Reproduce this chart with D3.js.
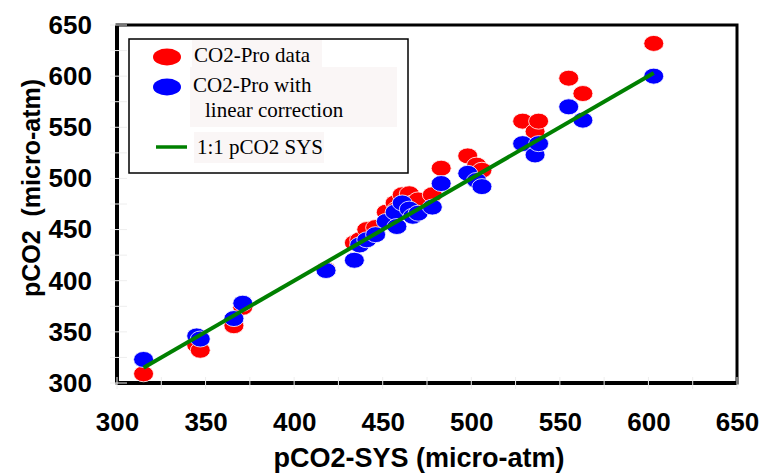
<!DOCTYPE html>
<html>
<head>
<meta charset="utf-8">
<script src="https://cdn.jsdelivr.net/npm/d3@7"></script>
<style>
  body { margin: 0; background: #fff; }
  svg { display: block; }
</style>
</head>
<body>
<div class="chart-container"></div>
<script>
const w = 759,
      h = 474;

// pCO2-SYS (x) with CO2-Pro raw (red) and corrected (blue)
const sysValues = [315, 345, 347, 366, 371, 418, 434, 437, 441, 446, 452, 457, 458, 461, 465, 467, 470, 478, 483, 498, 503, 506, 529, 536, 538, 555, 563, 603];
const rawValues = [309, 337, 332, 356, 374, 411, 437, 440, 450, 452, 467, 476, 470, 484, 485, 476, 479, 484, 510, 522, 513, 508, 556, 546, 556, 598, 583, 632];
const corrValues = [323, 346, 343, 363, 378, 410, 420, 435, 440, 445, 458, 467, 453, 476, 470, 463, 466, 472, 495, 505, 498, 492, 534, 523, 534, 570, 557, 600];
const lineEnds = [315, 603];
const xTicks = [300, 350, 400, 450, 500, 550, 600, 650];
const yTicks = [300, 350, 400, 450, 500, 550, 600, 650];
const minorTicks = d3.range(300, 651, 25);

const svg = d3.select('.chart-container')
  .append('svg')
  .attr('width', w)
  .attr('height', h);

const xScale = d3.scaleLinear().domain([300, 650]).range([117, 737]);
const yScale = d3.scaleLinear().domain([300, 650]).range([383, 25]);

// frame
svg.append('rect')
  .attr('x', xScale(300))
  .attr('y', yScale(650))
  .attr('width', xScale(650) - xScale(300))
  .attr('height', yScale(300) - yScale(650))
  .attr('fill', 'none')
  .attr('stroke', '#000')
  .attr('stroke-width', 3);

svg.append('line')
  .attr('x1', xScale(300)).attr('x2', xScale(300))
  .attr('y1', yScale(650)).attr('y2', yScale(300))
  .attr('stroke', '#000').attr('stroke-width', 4);

svg.append('line')
  .attr('x1', xScale(300)).attr('x2', xScale(650))
  .attr('y1', yScale(300)).attr('y2', yScale(300))
  .attr('stroke', '#000').attr('stroke-width', 4);

// minor tick marks (light on the black axis lines)
svg.selectAll('.ytick-mark')
  .data(minorTicks)
  .enter()
  .append('line')
  .attr('class', 'ytick-mark')
  .attr('x1', xScale(300) - 7).attr('x2', xScale(300) + 10)
  .attr('y1', d => yScale(d)).attr('y2', d => yScale(d))
  .attr('stroke', '#eee').attr('stroke-width', 1);

svg.selectAll('.xtick-mark')
  .data(minorTicks)
  .enter()
  .append('line')
  .attr('class', 'xtick-mark')
  .attr('x1', d => xScale(d)).attr('x2', d => xScale(d))
  .attr('y1', yScale(300) - 6).attr('y2', yScale(300) + 6)
  .attr('stroke', '#eee').attr('stroke-width', 1);

// axes labels via d3 axes
const xAxis = d3.axisBottom(xScale).tickValues(xTicks).tickSize(0).tickPadding(30);
const yAxis = d3.axisLeft(yScale).tickValues(yTicks).tickSize(0).tickPadding(25);

const gx = svg.append('g')
  .attr('transform', `translate(0, ${yScale(300)})`)
  .call(xAxis);
const gy = svg.append('g')
  .attr('transform', `translate(${xScale(300)}, 0)`)
  .call(yAxis);

[gx, gy].forEach(g => {
  g.select('.domain').remove();
  g.selectAll('text')
    .style('font-family', '"Liberation Sans", Arial, sans-serif')
    .style('font-weight', 'bold')
    .style('font-size', '26px')
    .attr('fill', '#000');
});

svg.append('text')
  .attr('x', 419)
  .attr('y', 467)
  .attr('text-anchor', 'middle')
  .style('font-family', '"Liberation Sans", Arial, sans-serif')
  .style('font-weight', 'bold')
  .style('font-size', '27px')
  .text('pCO2-SYS (micro-atm)');

svg.append('text')
  .attr('transform', 'translate(40, 188) rotate(-90)')
  .attr('text-anchor', 'middle')
  .style('font-family', '"Liberation Sans", Arial, sans-serif')
  .style('font-weight', 'bold')
  .style('font-size', '25px')
  .style('white-space', 'pre')
  .text('pCO2\u00a0\u00a0(micro-atm)');

// data points
const rawData = sysValues.map((d, i) => ({ x: d, y: rawValues[i] }));
const corrData = sysValues.map((d, i) => ({ x: d, y: corrValues[i] }));

svg.selectAll('.raw')
  .data(rawData)
  .enter()
  .append('ellipse')
  .attr('class', 'raw')
  .attr('cx', d => xScale(d.x))
  .attr('cy', d => yScale(d.y))
  .attr('rx', 10)
  .attr('ry', 8)
  .attr('fill', '#ff0000')
  .attr('stroke', '#fff')
  .attr('stroke-width', 0.8);

svg.selectAll('.corr')
  .data(corrData)
  .enter()
  .append('ellipse')
  .attr('class', 'corr')
  .attr('cx', d => xScale(d.x))
  .attr('cy', d => yScale(d.y))
  .attr('rx', 10)
  .attr('ry', 8)
  .attr('fill', '#0000ff')
  .attr('stroke', '#fff')
  .attr('stroke-width', 0.8);

svg.append('line')
  .attr('x1', xScale(lineEnds[0])).attr('y1', yScale(lineEnds[0]))
  .attr('x2', xScale(lineEnds[1])).attr('y2', yScale(lineEnds[1]))
  .attr('stroke', '#008000')
  .attr('stroke-width', 4);

// legend
const legend = svg.append('g').attr('id', 'legend');

legend.append('rect')
  .attr('x', 129).attr('y', 39)
  .attr('width', 279).attr('height', 134)
  .attr('fill', '#fff')
  .attr('stroke', '#000')
  .attr('stroke-width', 1.5);

const bgBoxes = [[192, 40, 130, 27], [190, 67, 207, 60], [194, 132, 130, 31]];
legend.selectAll('.lbg')
  .data(bgBoxes)
  .enter()
  .append('rect')
  .attr('class', 'lbg')
  .attr('x', d => d[0]).attr('y', d => d[1])
  .attr('width', d => d[2]).attr('height', d => d[3])
  .attr('fill', '#faf6f6');

legend.append('ellipse')
  .attr('cx', 167).attr('cy', 57).attr('rx', 14).attr('ry', 8.5)
  .attr('fill', '#ff0000');
legend.append('ellipse')
  .attr('cx', 167).attr('cy', 87).attr('rx', 14).attr('ry', 8.5)
  .attr('fill', '#0000ff');
legend.append('line')
  .attr('x1', 156).attr('x2', 187)
  .attr('y1', 147).attr('y2', 147)
  .attr('stroke', '#008000').attr('stroke-width', 3.5);

const legendText = [
  ['CO2-Pro data', 194, 62],
  ['CO2-Pro with', 193, 92],
  ['linear correction', 205, 117],
  ['1:1 pCO2 SYS', 197, 154]
];
legend.selectAll('.ltext')
  .data(legendText)
  .enter()
  .append('text')
  .attr('class', 'ltext')
  .attr('x', d => d[1])
  .attr('y', d => d[2])
  .style('font-family', '"Liberation Serif", "Times New Roman", serif')
  .style('font-size', '21px')
  .text(d => d[0]);
</script>
</body>
</html>
